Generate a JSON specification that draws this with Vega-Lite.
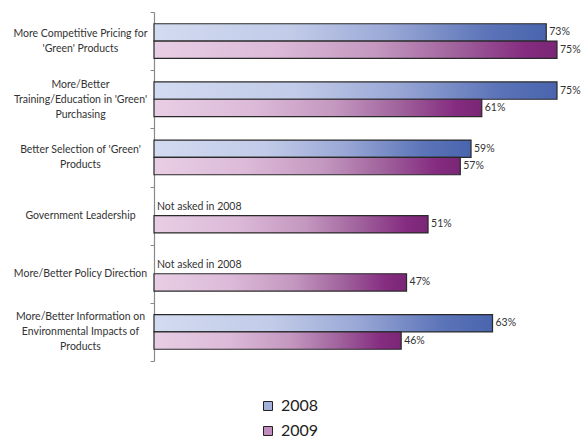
{
  "$schema": "https://vega.github.io/schema/vega-lite/v6.json",
  "width": 403,
  "height": 349,
  "autosize": {"type": "none"},
  "padding": {"left": 154, "top": 12, "right": 25, "bottom": 79},
  "background": "white",
  "config": {"view": {"stroke": null}, "font": "Lato"},
  "data": {
    "values": [
      {"cat": "More Competitive Pricing for|'Green' Products", "year": "2008", "value": 73},
      {"cat": "More Competitive Pricing for|'Green' Products", "year": "2009", "value": 75},
      {"cat": "More/Better|Training/Education in 'Green'|Purchasing", "year": "2008", "value": 75},
      {"cat": "More/Better|Training/Education in 'Green'|Purchasing", "year": "2009", "value": 61},
      {"cat": "Better Selection of 'Green'|Products", "year": "2008", "value": 59},
      {"cat": "Better Selection of 'Green'|Products", "year": "2009", "value": 57},
      {"cat": "Government Leadership", "year": "2008", "value": null},
      {"cat": "Government Leadership", "year": "2009", "value": 51},
      {"cat": "More/Better Policy Direction", "year": "2008", "value": null},
      {"cat": "More/Better Policy Direction", "year": "2009", "value": 47},
      {"cat": "More/Better Information on|Environmental Impacts of|Products", "year": "2008", "value": 63},
      {"cat": "More/Better Information on|Environmental Impacts of|Products", "year": "2009", "value": 46}
    ]
  },
  "encoding": {
    "y": {
      "field": "cat", "type": "nominal", "sort": null,
      "scale": {"paddingInner": 0, "paddingOuter": 0},
      "axis": {
        "title": null,
        "labelExpr": "split(datum.label, '|')",
        "tickBand": "extent",
        "domainColor": "#8a8a8a",
        "domainWidth": 1.2,
        "tickColor": "#8a8a8a",
        "tickSize": 4,
        "labelPadding": 70,
        "labelAlign": "center",
        "labelBaseline": "middle",
        "labelFont": "Lato",
        "labelFontSize": 10.5,
        "labelColor": "#333333",
        "labelLineHeight": 15,
        "labelLimit": 0,
        "labelOffset": {
          "condition": [
            {"test": "length(split(datum.value, '|')) == 3", "value": -15},
            {"test": "length(split(datum.value, '|')) == 2", "value": -7.5}
          ],
          "value": 0
        }
      }
    },
    "yOffset": {
      "field": "year", "type": "nominal",
      "scale": {"domain": ["2008", "2009"], "paddingInner": 0, "paddingOuter": 0.68}
    }
  },
  "layer": [
    {
      "mark": {"type": "bar", "stroke": "#2a2a2a", "strokeWidth": 1.2},
      "encoding": {
        "x": {"field": "value", "type": "quantitative", "scale": {"domain": [0, 75], "nice": false}, "axis": null},
        "fill": {
          "field": "year", "type": "nominal",
          "scale": {"domain": ["2008", "2009"], "range": ["#a4b0dc", "#c28cbe"]},
          "condition": [
            {"test": "datum.year === '2008'", "value": {"gradient": "linear", "x1": 0, "y1": 0, "x2": 1, "y2": 0, "stops": [
              {"offset": 0, "color": "#d2dbf0"},
              {"offset": 0.35, "color": "#c2cbe8"},
              {"offset": 0.6, "color": "#9aa8d6"},
              {"offset": 0.85, "color": "#5c74b8"},
              {"offset": 1, "color": "#4965ae"}]}},
            {"test": "datum.year === '2009'", "value": {"gradient": "linear", "x1": 0, "y1": 0, "x2": 1, "y2": 0, "stops": [
              {"offset": 0, "color": "#e8cee5"},
              {"offset": 0.3, "color": "#dcbad8"},
              {"offset": 0.55, "color": "#c498c0"},
              {"offset": 0.75, "color": "#a0629c"},
              {"offset": 0.92, "color": "#852c80"},
              {"offset": 1, "color": "#7a2676"}]}}
          ],
          "legend": {
            "title": null,
            "orient": "none",
            "legendX": 106,
            "legendY": 386,
            "symbolType": "square",
            "symbolSize": 81,
            "symbolStrokeColor": "#222222",
            "symbolStrokeWidth": 1,
            "labelFont": "Lato",
            "labelFontSize": 16,
            "labelColor": "#222222",
            "labelOffset": 5,
            "rowPadding": 9,
            "encode": {
              "symbols": {
                "update": {
                  "fill": [
                    {"test": "datum.value === '2008'", "value": {"gradient": "linear", "x1": 0, "y1": 0, "x2": 1, "y2": 1, "stops": [{"offset": 0, "color": "#dfe5f6"}, {"offset": 1, "color": "#6a80c0"}]}},
                    {"value": {"gradient": "linear", "x1": 0, "y1": 0, "x2": 1, "y2": 1, "stops": [{"offset": 0, "color": "#f0d8ee"}, {"offset": 1, "color": "#9a4a94"}]}}
                  ],
                  "stroke": {"value": "#222222"},
                  "strokeWidth": {"value": 1},
                  "opacity": {"value": 1}
                }
              }
            }
          }
        }
      }
    },
    {
      "transform": [
        {"calculate": "datum.value == null ? 'Not asked in 2008' : datum.value + '%'", "as": "label"},
        {"calculate": "datum.value == null ? 0 : datum.value", "as": "lx"}
      ],
      "mark": {"type": "text", "align": "left", "baseline": "middle", "dx": 3, "font": "Lato", "fontSize": 10.5, "color": "#333333"},
      "encoding": {
        "x": {"field": "lx", "type": "quantitative"},
        "text": {"field": "label", "type": "nominal"}
      }
    }
  ]
}
